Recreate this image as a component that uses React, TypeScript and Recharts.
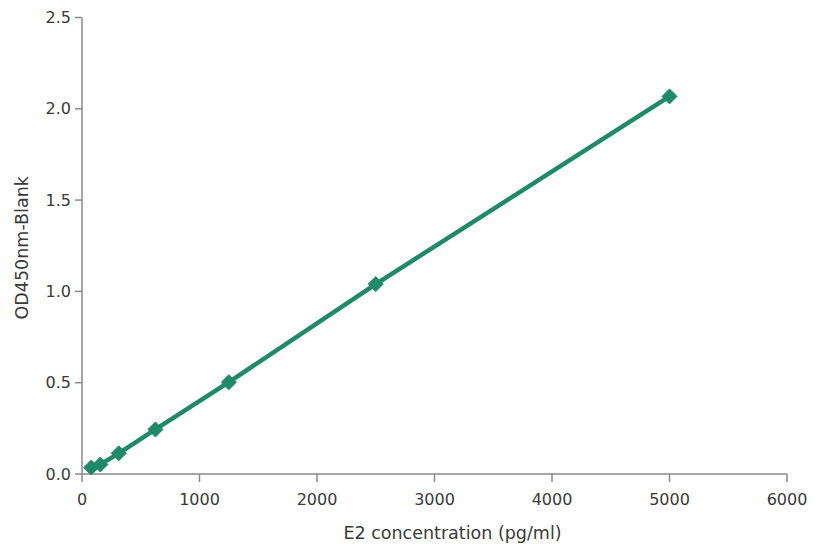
import React from 'react';
import { LineChart, Line, XAxis, YAxis, Label } from 'recharts';

const concentrations = [78.125, 156.25, 312.5, 625, 1250, 2500, 5000];
const odValues = [0.035, 0.052, 0.113, 0.244, 0.503, 1.04, 2.068];
const xTicks = [0, 1000, 2000, 3000, 4000, 5000, 6000];
const yTicks = [0, 0.5, 1.0, 1.5, 2.0, 2.5];

const data = concentrations.map((c, i) => ({ x: c, y: odValues[i] }));

const COLOR = '#1f8a68';
const AXIS = '#8a8a8a';
const TEXT = '#3a3a3a';
const FONT = '"DejaVu Sans", "Noto Sans", sans-serif';

const Diamond = (props: any) => {
  const { cx, cy } = props;
  if (cx == null || cy == null) return null;
  const r = 7.5;
  return (
    <polygon
      points={`${cx},${cy - r} ${cx + r},${cy} ${cx},${cy + r} ${cx - r},${cy}`}
      fill={COLOR}
      stroke={COLOR}
      strokeWidth={1}
    />
  );
};

const XLabel = (props: any) => {
  const { viewBox } = props;
  return (
    <text
      x={viewBox.x + viewBox.width / 2 + 18}
      y={539}
      textAnchor="middle"
      fill={TEXT}
      fontSize={17.5}
      fontFamily={FONT}
    >
      E2 concentration (pg/ml)
    </text>
  );
};

const YLabel = (props: any) => {
  const { viewBox } = props;
  const cy = viewBox.y + viewBox.height / 2 + 2;
  return (
    <text
      x={28}
      y={cy}
      transform={`rotate(-90, 28, ${cy})`}
      textAnchor="middle"
      fill={TEXT}
      fontSize={17.5}
      fontFamily={FONT}
    >
      OD450nm-Blank
    </text>
  );
};

export default function App() {
  return (
    <div style={{ position: 'absolute', left: 0, top: 0, background: '#fff' }}>
      <LineChart
        width={826}
        height={557}
        data={data}
        margin={{ top: 17.5, right: 39, left: 22, bottom: 23 }}
      >
        <XAxis
          dataKey="x"
          type="number"
          domain={[0, 6000]}
          ticks={xTicks}
          stroke={AXIS}
          strokeWidth={1.5}
          tickSize={8}
          height={60}
          tick={{ fill: TEXT, fontSize: 16, fontFamily: FONT }}
          tickMargin={12}
        >
          <Label content={<XLabel />} />
        </XAxis>
        <YAxis
          type="number"
          domain={[0, 2.5]}
          ticks={yTicks}
          tickFormatter={(v: number) => v.toFixed(1)}
          stroke={AXIS}
          strokeWidth={1.5}
          tickSize={7}
          width={60}
          tick={{ fill: TEXT, fontSize: 16, fontFamily: FONT }}
          tickMargin={4}
        >
          <Label content={<YLabel />} />
        </YAxis>
        <Line
          dataKey="y"
          stroke={COLOR}
          strokeWidth={4.5}
          dot={<Diamond />}
          activeDot={false}
          isAnimationActive={false}
        />
      </LineChart>
    </div>
  );
}
